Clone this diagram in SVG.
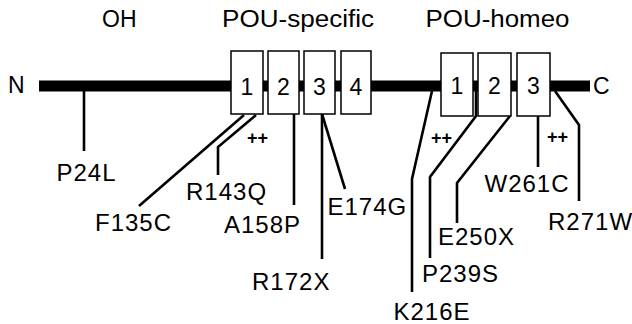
<svg xmlns="http://www.w3.org/2000/svg" width="632" height="324" viewBox="0 0 632 324">
<style>
text{font-family:"Liberation Sans",Arial,sans-serif;fill:#000}
.hdr{font-size:23px}
.end{font-size:23px}
.num{font-size:23px;text-anchor:middle}
.lbl{font-size:24px;letter-spacing:1px}
.pp{font-size:18px;font-weight:bold}
.box{fill:#fff;stroke:#000;stroke-width:1.5}
.ln{fill:none;stroke:#000;stroke-width:2.6;stroke-linejoin:miter}
</style>
<rect width="632" height="324" fill="#fff"/>
<g id="headers">
<text class="hdr" x="102" y="26.5">OH</text>
<text class="hdr" x="222" y="26.5" textLength="152" lengthAdjust="spacingAndGlyphs">POU-specific</text>
<text class="hdr" x="425.5" y="26.5" textLength="144" lengthAdjust="spacingAndGlyphs">POU-homeo</text>
</g>
<g id="backbone">
<text class="end" x="8" y="93">N</text>
<rect x="39" y="80.5" width="551" height="11" fill="#000"/>
<text class="end" x="593" y="94">C</text>
</g>
<g id="connectors">
<path class="ln" d="M84 86V151"/>
<path class="ln" d="M244 115L139 206"/>
<path class="ln" d="M256 115L218 147V175"/>
<path class="ln" d="M294 114V205"/>
<path class="ln" d="M322 114V259"/>
<path class="ln" d="M322 114L345 189"/>
<path class="ln" d="M432 91L412 179V292"/>
<path class="ln" d="M476 86V116L430 177V258"/>
<path class="ln" d="M510 116L457 183V223"/>
<path class="ln" d="M538 116V167"/>
<path class="ln" d="M555 91L579 125V201"/>
</g>
<g id="pou-specific">
<g id="ps1"><rect class="box" x="231" y="51" width="32" height="63"/><text class="num" x="247" y="95">1</text></g>
<g id="ps2"><rect class="box" x="268" y="51" width="31" height="63"/><text class="num" x="283.5" y="95">2</text></g>
<g id="ps3"><rect class="box" x="304" y="51" width="31" height="63"/><text class="num" x="319.5" y="95">3</text></g>
<g id="ps4"><rect class="box" x="341" y="51" width="30" height="63"/><text class="num" x="356" y="95">4</text></g>
</g>
<g id="pou-homeo">
<g id="ph1"><rect class="box" x="441" y="53" width="32" height="63"/><text class="num" x="457" y="94">1</text></g>
<g id="ph2"><rect class="box" x="478" y="53" width="33" height="63"/><text class="num" x="494.5" y="94">2</text></g>
<g id="ph3"><rect class="box" x="517" y="53" width="33" height="63"/><text class="num" x="533.5" y="94">3</text></g>
</g>
<g id="charges">
<text class="pp" x="247" y="143.5">++</text>
<text class="pp" x="431" y="144">++</text>
<text class="pp" x="547" y="142.5">++</text>
</g>
<g id="mutations">
<g id="m-P24L"><text class="lbl" x="56.5" y="181">P24L</text></g>
<g id="m-F135C"><text class="lbl" x="95" y="231">F135C</text></g>
<g id="m-R143Q"><text class="lbl" x="186" y="200">R143Q</text></g>
<g id="m-A158P"><text class="lbl" x="224" y="233">A158P</text></g>
<g id="m-R172X"><text class="lbl" x="252" y="290">R172X</text></g>
<g id="m-E174G"><text class="lbl" x="327.5" y="215">E174G</text></g>
<g id="m-K216E"><text class="lbl" x="393.5" y="320">K216E</text></g>
<g id="m-P239S"><text class="lbl" x="422" y="282">P239S</text></g>
<g id="m-E250X"><text class="lbl" x="438" y="245">E250X</text></g>
<g id="m-W261C"><text class="lbl" x="484.5" y="192">W261C</text></g>
<g id="m-R271W"><text class="lbl" x="548" y="230">R271W</text></g>
</g>
</svg>
